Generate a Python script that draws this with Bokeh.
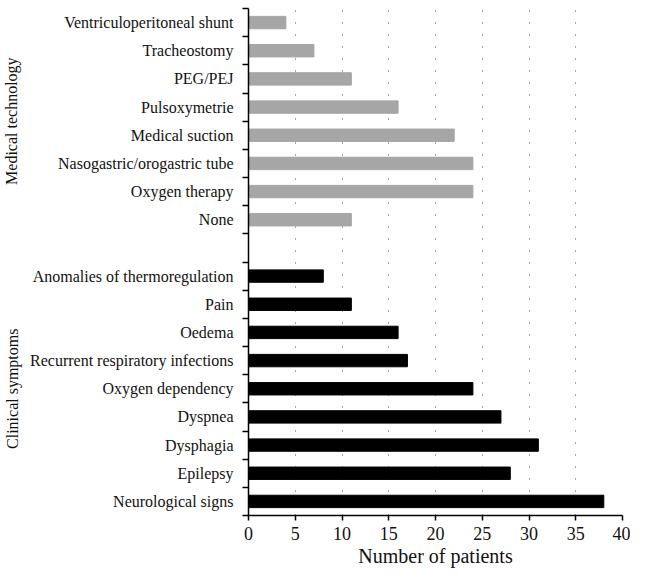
from bokeh.plotting import figure
from bokeh.models import FixedTicker, LinearAxis, Range1d, ColumnDataSource
from bokeh.embed import file_html
from bokeh.resources import INLINE

# ---- data (top to bottom as in the picture) ----
tech_labels = ["Ventriculoperitoneal shunt", "Tracheostomy", "PEG/PEJ", "Pulsoxymetrie",
               "Medical suction", "Nasogastric/orogastric tube", "Oxygen therapy", "None"]
tech_values = [4, 7, 11, 16, 22, 24, 24, 11]
clin_labels = ["Anomalies of thermoregulation", "Pain", "Oedema", "Recurrent respiratory infections",
               "Oxygen dependency", "Dyspnea", "Dysphagia", "Epilepsy", "Neurological signs"]
clin_values = [8, 11, 16, 17, 24, 27, 31, 28, 38]
group_names = ["Clinical symptoms", "Medical technology"]
x_ticks = [0, 5, 10, 15, 20, 25, 30, 35, 40]
x_title = "Number of patients"

FONT = "Liberation Serif"

# slot positions, bottom to top: clinical group, one empty slot, technology group
n_c, n_t = len(clin_labels), len(tech_labels)
clin_pos = [n_c - 1 - i for i in range(n_c)]
tech_pos = [n_c + 1 + (n_t - 1 - i) for i in range(n_t)]
n_slots = n_c + 1 + n_t

src_c = ColumnDataSource(dict(y=clin_pos, v=clin_values, name=clin_labels))
src_t = ColumnDataSource(dict(y=tech_pos, v=tech_values, name=tech_labels))

p = figure(width=630, height=572, output_backend="svg", toolbar_location=None,
           x_range=Range1d(0, 40), y_range=Range1d(-0.5, n_slots - 0.5),
           min_border_left=246, min_border_right=8, min_border_top=8, min_border_bottom=57)
p.outline_line_color = None
p.background_fill_color = "white"

p.hbar(y="y", right="v", left=0, height=0.44, source=src_c, color="#000000")
p.hbar(y="y", right="v", left=0, height=0.44, source=src_t, color="#a6a6a6")

# x axis
xa = p.xaxis[0]
xa.ticker = FixedTicker(ticks=x_ticks)
xa.axis_label = x_title
xa.axis_label_text_font = FONT
xa.axis_label_text_font_size = "20px"
xa.axis_label_text_font_style = "normal"
xa.axis_label_text_color = "#111111"
xa.axis_label_standoff = 2
xa.major_label_text_font = FONT
xa.major_label_text_font_size = "18px"
xa.major_label_text_color = "#111111"
xa.major_label_standoff = 6
xa.axis_line_width = 1.5
xa.axis_line_color = "black"
xa.major_tick_line_color = "black"
xa.major_tick_line_width = 1.5
xa.major_tick_out = 5
xa.major_tick_in = 0
xa.minor_tick_line_color = None

# y axis: labels at slot centres, ticks at slot boundaries
ya = p.yaxis[0]
centers = clin_pos + tech_pos
ya.ticker = FixedTicker(ticks=centers, minor_ticks=[k - 0.5 for k in range(n_slots + 1)])
ya.major_label_overrides = {pos: lab for pos, lab in zip(clin_pos + tech_pos, clin_labels + tech_labels)}
ya.major_label_text_font = FONT
ya.major_label_text_font_size = "16px"
ya.major_label_text_color = "#111111"
ya.major_label_standoff = 9
ya.major_tick_out = 0
ya.major_tick_in = 0
ya.minor_tick_out = 6
ya.minor_tick_in = 0
ya.minor_tick_line_color = "black"
ya.minor_tick_line_width = 1.5
ya.axis_line_width = 1.5
ya.axis_line_color = "black"

# outer axis carrying the group names
group_centers = [(min(clin_pos) + max(clin_pos)) / 2, (min(tech_pos) + max(tech_pos)) / 2]
ga = LinearAxis(ticker=FixedTicker(ticks=group_centers, minor_ticks=[]))
ga.major_label_overrides = {c: g for c, g in zip(group_centers, group_names)}
ga.major_label_orientation = "vertical"
ga.major_label_text_font = FONT
ga.major_label_text_font_size = "16px"
ga.major_label_text_color = "#111111"
ga.major_label_standoff = 7
ga.axis_line_color = None
ga.major_tick_line_color = None
ga.minor_tick_line_color = None
ga.major_tick_out = 0
ga.major_tick_in = 0
p.add_layout(ga, "left")

# dotted vertical grid
p.ygrid.visible = False
p.xgrid.ticker = FixedTicker(ticks=x_ticks[1:])
p.xgrid.grid_line_color = "#444444"
p.xgrid.grid_line_dash = "1 11"
p.xgrid.grid_line_width = 1

open("out.html", "w").write(file_html(p, INLINE))
